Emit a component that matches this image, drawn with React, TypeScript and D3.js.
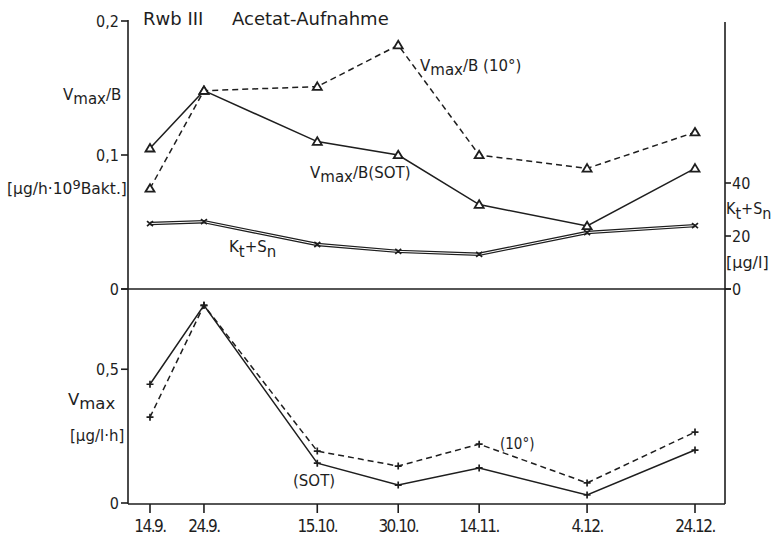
import React from "react";
import * as d3 from "d3";

const dates = ["1975-09-14", "1975-09-24", "1975-10-15", "1975-10-30", "1975-11-14", "1975-12-04", "1975-12-24"];
const dateLabels = ["14.9.", "24.9.", "15.10.", "30.10.", "14.11.", "4.12.", "24.12."];
const vmaxBSot = [0.105, 0.148, 0.11, 0.1, 0.063, 0.047, 0.09];
const vmaxB10 = [0.075, 0.148, 0.151, 0.182, 0.1, 0.09, 0.117];
const ktSn = [24.7, 25.4, 16.8, 14.2, 13.1, 21.3, 23.9];
const vmaxSot = [0.444, 0.739, 0.149, 0.067, 0.131, 0.03, 0.198];
const vmax10 = [0.321, 0.739, 0.194, 0.138, 0.22, 0.075, 0.265];
const topTicks = [0, 0.1, 0.2];
const topTickLabels = ["0", "0,1", "0,2"];
const rightTicks = [0, 20, 40];
const rightTickLabels = ["0", "20", "40"];
const botTicks = [0, 0.5];
const botTickLabels = ["0", "0,5"];

const INK = "#1e1e1e";
const COND = "'DejaVu Sans Condensed', 'DejaVu Sans', sans-serif";
const NORM = "'DejaVu Sans', sans-serif";

export default function App() {
  const parsed = dates.map((d) => new Date(d + "T00:00:00Z"));
  const x = d3.scaleUtc().domain([parsed[0], parsed[parsed.length - 1]]).range([150, 695]);
  const yTop = d3.scaleLinear().domain([0, 0.2]).range([289, 21]);
  const yRight = d3.scaleLinear().domain([0, 40]).range([289, 183]);
  const yBot = d3.scaleLinear().domain([0, 0.8]).range([503, 289]);

  const mkLine = (vals: number[], y: d3.ScaleLinear<number, number>) =>
    d3.line<number>().x((_, i) => x(parsed[i])).y((v) => y(v))(vals) || "";

  const tri = (cx: number, cy: number, k: string) => (
    <path key={k} d={`M${cx},${cy - 4.3} L${cx + 4.5},${cy + 3.2} L${cx - 4.5},${cy + 3.2} Z`} fill="white" stroke={INK} strokeWidth={1.8} />
  );
  const cross = (cx: number, cy: number, k: string) => (
    <path key={k} d={`M${cx - 3},${cy - 2.5} L${cx + 3},${cy + 2.5} M${cx - 3},${cy + 2.5} L${cx + 3},${cy - 2.5}`} stroke={INK} strokeWidth={1.7} />
  );
  const plus = (cx: number, cy: number, k: string) => (
    <path key={k} d={`M${cx - 3.5},${cy} L${cx + 3.5},${cy} M${cx},${cy - 3.5} L${cx},${cy + 3.5}`} stroke={INK} strokeWidth={1.7} />
  );

  const fs = 16;
  return (
    <svg width={774} height={536} style={{ position: "absolute", left: 0, top: 0, background: "white" }} fontFamily={NORM} fill={INK}>
      {/* axes */}
      <line x1={128} x2={128} y1={20} y2={504} stroke={INK} strokeWidth={1.6} />
      <line x1={725} x2={725} y1={22} y2={504} stroke={INK} strokeWidth={1.6} />
      <line x1={128} x2={725} y1={504} y2={504} stroke={INK} strokeWidth={1.6} />
      <line x1={121} x2={731} y1={289} y2={289} stroke={INK} strokeWidth={1.6} />
      {topTicks.map((t, i) => (
        <g key={"tt" + i}>
          <line x1={121} x2={128} y1={yTop(t)} y2={yTop(t)} stroke={INK} strokeWidth={1.6} />
          <text x={119} y={yTop(t) + 6} textAnchor="end" fontSize={fs} fontFamily={COND}>{topTickLabels[i]}</text>
        </g>
      ))}
      {rightTicks.map((t, i) => (
        <g key={"rt" + i}>
          <line x1={725} x2={731} y1={yRight(t)} y2={yRight(t)} stroke={INK} strokeWidth={1.6} />
          <text x={732} y={yRight(t) + 6} textAnchor="start" fontSize={fs} fontFamily={COND}>{rightTickLabels[i]}</text>
        </g>
      ))}
      {botTicks.map((t, i) => (
        <g key={"bt" + i}>
          <line x1={121} x2={128} y1={yBot(t)} y2={yBot(t)} stroke={INK} strokeWidth={1.6} />
          <text x={119} y={yBot(t) + 6} textAnchor="end" fontSize={fs} fontFamily={COND}>{botTickLabels[i]}</text>
        </g>
      ))}
      {parsed.map((d, i) => (
        <g key={"xt" + i}>
          <line x1={x(d)} x2={x(d)} y1={504} y2={513} stroke={INK} strokeWidth={1.6} />
          <text x={x(d)} y={532} textAnchor="middle" fontSize={17} letterSpacing={-1.5} fontFamily={COND}>{dateLabels[i]}</text>
        </g>
      ))}

      {/* title */}
      <text x={143} y={25} fontSize={18}>Rwb III</text>
      <text x={232} y={25} fontSize={18}>Acetat-Aufnahme</text>

      {/* left labels */}
      <text x={63} y={100} fontSize={15}>V<tspan dy={4}>max</tspan><tspan dy={-4}>/B</tspan></text>
      <text x={7} y={194} fontSize={15.5}>[µg/h·10<tspan dy={-5} fontSize={13}>9</tspan><tspan dy={5}>Bakt.]</tspan></text>
      <text x={68} y={405} fontSize={16.5}>V<tspan dy={4}>max</tspan></text>
      <text x={70} y={441} fontSize={15}>[µg/l·h]</text>

      {/* right labels */}
      <text x={726} y={214} fontSize={fs} fontFamily={COND}>K<tspan dy={5}>t</tspan><tspan dy={-5}>+S</tspan><tspan dy={5}>n</tspan></text>
      <text x={726} y={268} fontSize={16}>[µg/l]</text>

      {/* in-plot labels */}
      <text x={229} y={252} fontSize={15}>K<tspan dy={5}>t</tspan><tspan dy={-5}>+S</tspan><tspan dy={5}>n</tspan></text>
      <text x={310} y={178} fontSize={15}>V<tspan dy={4}>max</tspan><tspan dy={-4}>/B(SOT)</tspan></text>
      <text x={420} y={71} fontSize={15}>V<tspan dy={4}>max</tspan><tspan dy={-4}>/B (10°)</tspan></text>
      <text x={293} y={486} fontSize={15}>(SOT)</text>
      <text x={500} y={449} fontSize={15} fontFamily={COND}>(10°)</text>

      {/* Kt+Sn double line */}
      <path d={mkLine(ktSn, yRight)} fill="none" stroke={INK} strokeWidth={3.4} />
      <path d={mkLine(ktSn, yRight)} fill="none" stroke="white" strokeWidth={1.0} />
      {ktSn.map((v, i) => cross(x(parsed[i]), yRight(v), "k" + i))}

      {/* top panel */}
      <path d={mkLine(vmaxB10, yTop)} fill="none" stroke={INK} strokeWidth={1.5} strokeDasharray="6,4" />
      <path d={mkLine(vmaxBSot, yTop)} fill="none" stroke={INK} strokeWidth={1.5} />
      {vmaxB10.map((v, i) => tri(x(parsed[i]), yTop(v), "a" + i))}
      {vmaxBSot.map((v, i) => tri(x(parsed[i]), yTop(v), "b" + i))}

      {/* bottom panel */}
      <path d={mkLine(vmax10, yBot)} fill="none" stroke={INK} strokeWidth={1.5} strokeDasharray="6,4" />
      <path d={mkLine(vmaxSot, yBot)} fill="none" stroke={INK} strokeWidth={1.5} />
      {vmax10.map((v, i) => plus(x(parsed[i]), yBot(v), "c" + i))}
      {vmaxSot.map((v, i) => plus(x(parsed[i]), yBot(v), "d" + i))}
    </svg>
  );
}
